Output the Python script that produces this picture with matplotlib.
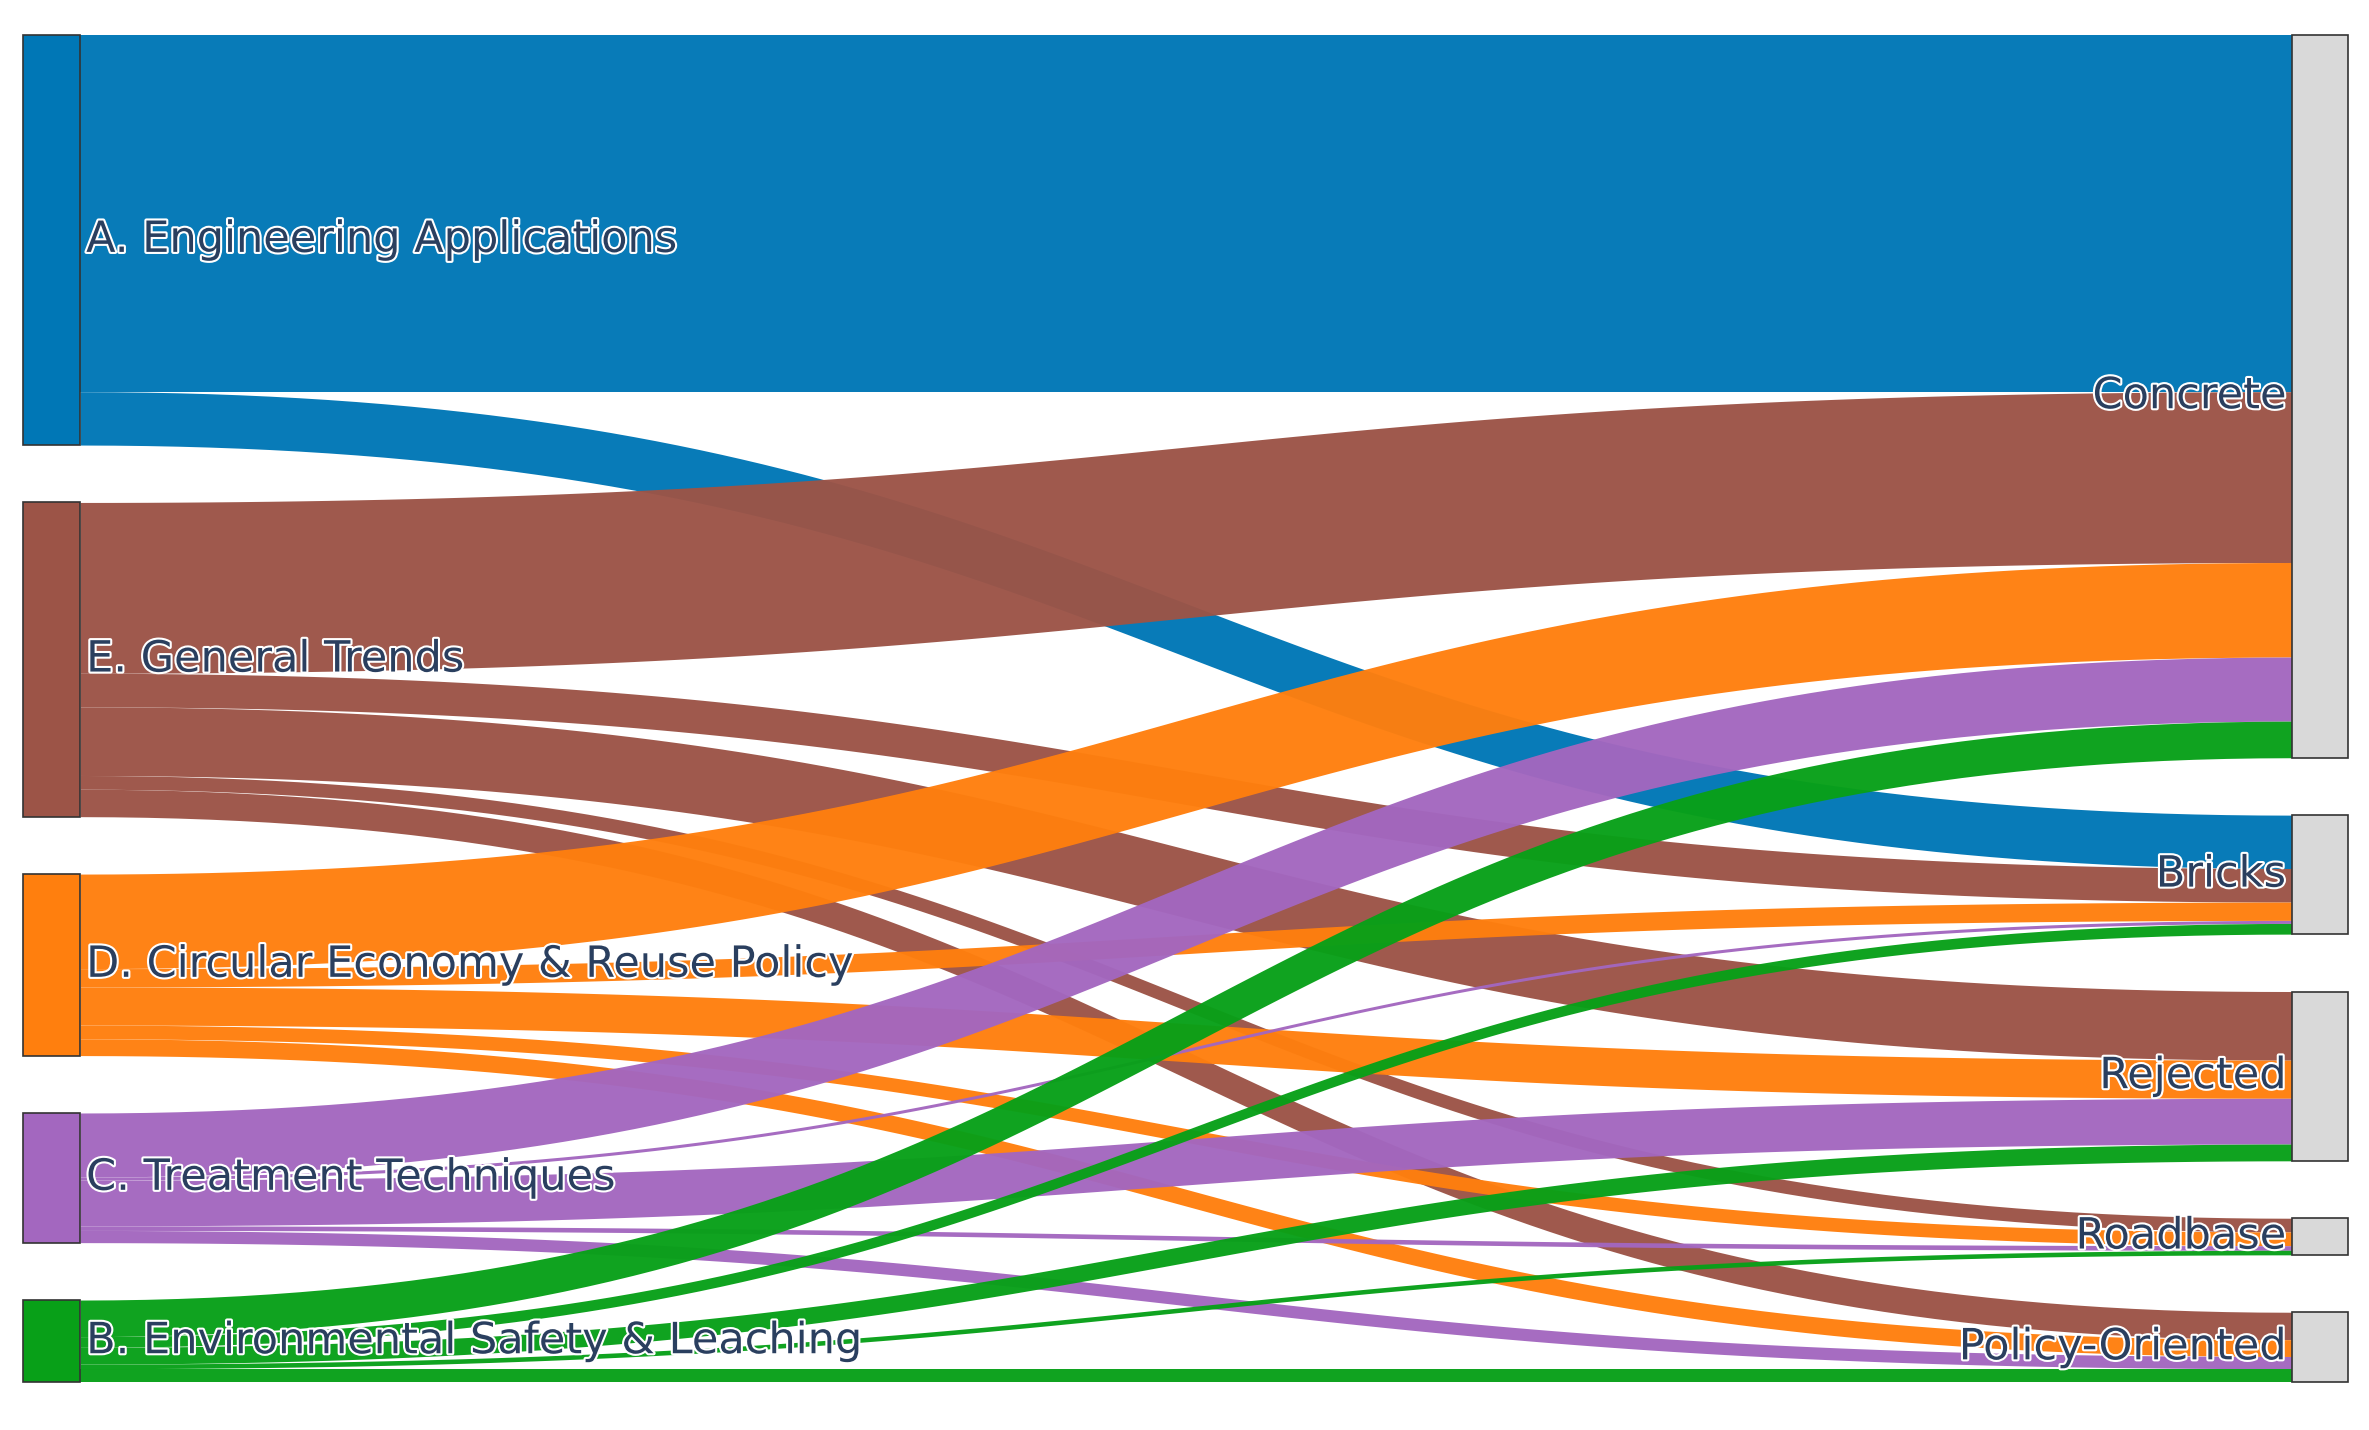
import numpy as np
import matplotlib.pyplot as plt
import matplotlib.patheffects as pe

sources = ["A. Engineering Applications", "E. General Trends",
           "D. Circular Economy & Reuse Policy", "C. Treatment Techniques",
           "B. Environmental Safety & Leaching"]
targets = ["Concrete", "Bricks", "Rejected", "Roadbase", "Policy-Oriented"]
src_colors = ["#0077b6", "#9c5447", "#ff7f0e", "#a367bf", "#08a018"]
# rows = sources, cols = targets
flows = np.array([
    [234, 35, 0, 0, 0],
    [112, 22, 45, 9, 18],
    [62, 12, 25, 9, 11],
    [42, 2, 30, 3, 8],
    [24, 7, 11, 3, 9],
], dtype=float)

W, H = 1568, 946.5
top, bottom, pad = 23, 915, 38
xl0, xl1 = 15, 53
xr0, xr1 = 1517, 1554

fig = plt.figure(figsize=(23.69, 14.30), dpi=100)
ax = fig.add_axes([0, 0, 1, 1])
ax.set_xlim(0, W)
ax.set_ylim(H, 0)
ax.axis("off")

src_tot = flows.sum(axis=1)
tgt_tot = flows.sum(axis=0)
scale = (bottom - top - 4 * pad) / src_tot.sum()

def positions(tots):
    ys, y = [], top
    for t in tots:
        ys.append(y)
        y += t * scale + pad
    return ys

sy = positions(src_tot)
ty = positions(tgt_tot)

# link offsets
s_off = list(sy)
t_off = list(ty)
links = []
for i in range(len(sources)):
    for j in range(len(targets)):
        v = flows[i, j]
        if v <= 0:
            continue
        h = v * scale
        links.append((i, s_off[i], t_off[j], h))
        s_off[i] += h
        t_off[j] += h

t = np.linspace(0, 1, 100)
xm = (xl1 + xr0) / 2
bx = (1 - t) ** 3 * xl1 + 3 * (1 - t) ** 2 * t * xm + 3 * (1 - t) * t ** 2 * xm + t ** 3 * xr0
def curve(y0, y1):
    return (1 - t) ** 3 * y0 + 3 * (1 - t) ** 2 * t * y0 + 3 * (1 - t) * t ** 2 * y1 + t ** 3 * y1

for i, y0, y1, h in links:
    ax.fill_between(bx, curve(y0, y1), curve(y0 + h, y1 + h), color=src_colors[i], lw=0, alpha=0.97)

for i, name in enumerate(sources):
    ax.add_patch(plt.Rectangle((xl0, sy[i]), xl1 - xl0, src_tot[i] * scale,
                               fc=src_colors[i], ec="#333333", lw=1.2))
for j, name in enumerate(targets):
    ax.add_patch(plt.Rectangle((xr0, ty[j]), xr1 - xr0, tgt_tot[j] * scale,
                               fc="#d9d9d9", ec="#333333", lw=1.2))

fx = [pe.withStroke(linewidth=3, foreground="white")]
for i, name in enumerate(sources):
    ax.text(xl1 + 4, sy[i] + src_tot[i] * scale / 2, name, fontsize=31, color="#2a3f5f",
            va="center", ha="left", path_effects=fx)
for j, name in enumerate(targets):
    ax.text(xr0 - 4, ty[j] + tgt_tot[j] * scale / 2, name, fontsize=31, color="#2a3f5f",
            va="center", ha="right", path_effects=fx)

fig.savefig("out.png", dpi=100)
